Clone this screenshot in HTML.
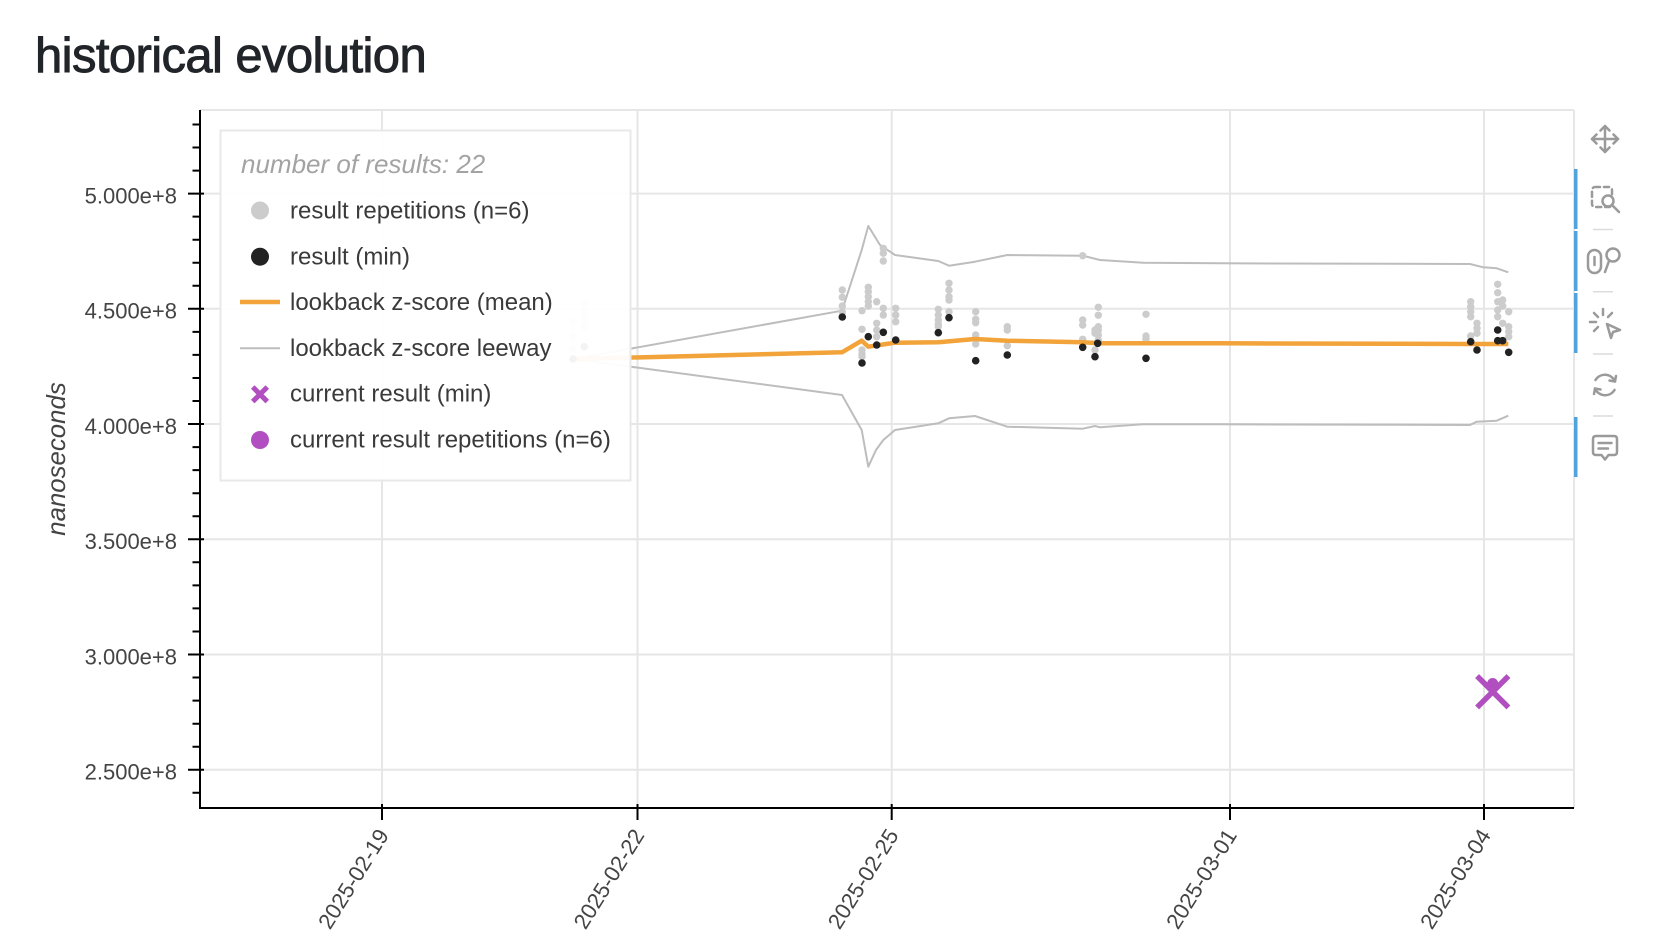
<!DOCTYPE html>
<html><head><meta charset="utf-8"><style>
html,body{margin:0;padding:0;background:#fff;}
svg{display:block;}
text{font-family:"Liberation Sans",Arial,sans-serif;}
</style></head><body>
<svg width="1668" height="952" viewBox="0 0 1668 952" xmlns="http://www.w3.org/2000/svg">
<rect width="1668" height="952" fill="#fff"/>
<text x="35" y="72" font-size="49" letter-spacing="-0.6" fill="#212529" stroke="#212529" stroke-width="0.9">historical evolution</text>

<!-- grid -->
<g stroke="#e6e6e6" stroke-width="2" fill="none">
<path d="M200 193.6H1574M200 308.8H1574M200 424H1574M200 539.3H1574M200 654.5H1574M200 769.8H1574"/>
<path d="M382 110V808M637.5 110V808M891.7 110V808M1230 110V808M1484 110V808"/>
<path d="M200 110H1574M1574 110V808"/>
</g>

<!-- leeway lines -->
<g stroke="#bdbdbd" stroke-width="2" fill="none" stroke-linejoin="round">
<polyline points="573,359 842,310.7 861.7,250 868.3,226 880,245 895,255 938.3,261 949,265.7 975,261.7 1007.3,255 1082.7,255.7 1100,260 1143.3,262.7 1220,263.3 1470,264 1483.3,267.3 1496.7,268.3 1508.3,272.3"/>
<polyline points="573,359 842,395 861.7,430 868.3,466.7 876,450 883.3,440 895,430 938.3,423.3 949,418.3 975,416 1007.3,426.7 1082.7,428.7 1095,426 1100,427.3 1143.3,424.3 1220,424.3 1470,425 1476.7,421.7 1496.7,420.7 1508.3,415.7"/>
</g>

<!-- repetitions -->
<g fill="#cccccc">
<circle cx="573" cy="321.7" r="3.7"/><circle cx="573" cy="336.7" r="3.7"/><circle cx="573" cy="349.3" r="3.7"/>
<circle cx="584.3" cy="303.3" r="3.7"/><circle cx="584.3" cy="310" r="3.7"/><circle cx="584.3" cy="318.3" r="3.7"/><circle cx="584.3" cy="326.7" r="3.7"/>
<circle cx="842.3" cy="290" r="3.7"/><circle cx="842.3" cy="297.3" r="3.7"/><circle cx="842.3" cy="306" r="3.7"/><circle cx="842.3" cy="312" r="3.7"/>
<circle cx="862" cy="310.7" r="3.7"/><circle cx="862" cy="329.3" r="3.7"/><circle cx="862" cy="350" r="3.7"/><circle cx="862" cy="354" r="3.7"/><circle cx="862" cy="356.7" r="3.7"/>
<circle cx="868.3" cy="287.3" r="3.7"/><circle cx="868.3" cy="291.7" r="3.7"/><circle cx="868.3" cy="296.7" r="3.7"/><circle cx="868.3" cy="301.7" r="3.7"/><circle cx="868.3" cy="306" r="3.7"/>
<circle cx="876.7" cy="301.7" r="3.7"/><circle cx="876.7" cy="323.3" r="3.7"/><circle cx="876.7" cy="330" r="3.7"/><circle cx="876.7" cy="336.7" r="3.7"/>
<circle cx="883.3" cy="248.3" r="3.7"/><circle cx="883.3" cy="253.3" r="3.7"/><circle cx="883.3" cy="261" r="3.7"/><circle cx="883.3" cy="308.3" r="3.7"/><circle cx="883.3" cy="315" r="3.7"/>
<circle cx="895.7" cy="308.3" r="3.7"/><circle cx="895.7" cy="315" r="3.7"/><circle cx="895.7" cy="321.7" r="3.7"/>
<circle cx="938.3" cy="309.3" r="3.7"/><circle cx="938.3" cy="315" r="3.7"/><circle cx="938.3" cy="320" r="3.7"/><circle cx="938.3" cy="324" r="3.7"/><circle cx="938.3" cy="326.7" r="3.7"/>
<circle cx="949" cy="283.3" r="3.7"/><circle cx="949" cy="290" r="3.7"/><circle cx="949" cy="296.7" r="3.7"/><circle cx="949" cy="300" r="3.7"/><circle cx="949" cy="311.7" r="3.7"/>
<circle cx="975.7" cy="311.7" r="3.7"/><circle cx="975.7" cy="319.3" r="3.7"/><circle cx="975.7" cy="322.7" r="3.7"/><circle cx="975.7" cy="335" r="3.7"/><circle cx="975.7" cy="339.3" r="3.7"/><circle cx="975.7" cy="344" r="3.7"/>
<circle cx="1007.3" cy="326.7" r="3.7"/><circle cx="1007.3" cy="330" r="3.7"/><circle cx="1007.3" cy="345.7" r="3.7"/>
<circle cx="1082.7" cy="255.7" r="3.7"/><circle cx="1082.7" cy="320" r="3.7"/><circle cx="1082.7" cy="325" r="3.7"/><circle cx="1082.7" cy="339.3" r="3.7"/>
<circle cx="1095" cy="330" r="3.7"/><circle cx="1095" cy="333.3" r="3.7"/><circle cx="1095" cy="350" r="3.7"/>
<circle cx="1098.3" cy="307.3" r="3.7"/><circle cx="1098.3" cy="315.3" r="3.7"/><circle cx="1098.3" cy="326.7" r="3.7"/><circle cx="1098.3" cy="330" r="3.7"/><circle cx="1098.3" cy="335" r="3.7"/><circle cx="1098.3" cy="340" r="3.7"/>
<circle cx="1146" cy="314.3" r="3.7"/><circle cx="1146" cy="336" r="3.7"/><circle cx="1146" cy="339.3" r="3.7"/>
<circle cx="1470.7" cy="301.7" r="3.7"/><circle cx="1470.7" cy="306.7" r="3.7"/><circle cx="1470.7" cy="311.7" r="3.7"/><circle cx="1470.7" cy="316.7" r="3.7"/><circle cx="1470.7" cy="336" r="3.7"/>
<circle cx="1477" cy="323.3" r="3.7"/><circle cx="1477" cy="328.3" r="3.7"/><circle cx="1477" cy="333.3" r="3.7"/>
<circle cx="1497.7" cy="284.3" r="3.7"/><circle cx="1497.7" cy="292.7" r="3.7"/><circle cx="1497.7" cy="301.7" r="3.7"/><circle cx="1497.7" cy="310" r="3.7"/><circle cx="1497.7" cy="316.7" r="3.7"/>
<circle cx="1502.7" cy="300" r="3.7"/><circle cx="1502.7" cy="306" r="3.7"/><circle cx="1502.7" cy="323.3" r="3.7"/>
<circle cx="1508.7" cy="311.7" r="3.7"/><circle cx="1508.7" cy="326.7" r="3.7"/><circle cx="1508.7" cy="331.7" r="3.7"/><circle cx="1508.7" cy="336.7" r="3.7"/>
</g>

<!-- mean -->
<polyline fill="none" stroke="#f2a33a" stroke-width="4.5" stroke-linejoin="round" points="573,359 842,352.3 861.7,340.7 868.3,346.7 895,342.7 938.3,342.3 975,339 1007.3,340.7 1082.7,342.3 1100,343.3 1220,343.3 1470,344 1508.3,344"/>

<!-- min -->
<g fill="#222">
<circle cx="573" cy="359" r="3.8"/><circle cx="584.3" cy="346.7" r="3.8"/>
<circle cx="842.3" cy="317" r="3.8"/><circle cx="862" cy="363" r="3.8"/><circle cx="868.3" cy="336.7" r="3.8"/><circle cx="876.7" cy="345" r="3.8"/><circle cx="883.3" cy="332.3" r="3.8"/><circle cx="895.7" cy="340" r="3.8"/><circle cx="938.3" cy="332.7" r="3.8"/><circle cx="949" cy="317.7" r="3.8"/><circle cx="975.7" cy="360.7" r="3.8"/><circle cx="1007.3" cy="355" r="3.8"/><circle cx="1082.7" cy="347.3" r="3.8"/><circle cx="1095" cy="356.7" r="3.8"/><circle cx="1097.7" cy="343.3" r="3.8"/><circle cx="1146" cy="358.3" r="3.8"/>
<circle cx="1470.7" cy="341.7" r="3.8"/><circle cx="1477" cy="350" r="3.8"/><circle cx="1497.7" cy="330" r="3.8"/><circle cx="1497.7" cy="340.7" r="3.8"/><circle cx="1502.7" cy="340.7" r="3.8"/><circle cx="1508.7" cy="352.3" r="3.8"/>
</g>

<!-- current -->
<g fill="#b14fc0"><circle cx="1492.7" cy="683.5" r="5.5"/><circle cx="1492.7" cy="685" r="5"/></g>
<path d="M1479 678L1506.5 705.5M1506.5 678L1479 705.5" stroke="#b14fc0" stroke-width="5.5" stroke-linecap="square"/>

<!-- legend -->
<rect x="220.5" y="130.5" width="410" height="350" fill="#fff" fill-opacity="0.95" stroke="#e8e8e8" stroke-width="2"/>
<text x="241" y="173" font-size="26" font-style="italic" fill="#a3a3a3">number of results: 22</text>
<circle cx="260" cy="210.5" r="9" fill="#cccccc"/>
<circle cx="260" cy="256.7" r="9" fill="#222"/>
<path d="M240 302H280" stroke="#f2a33a" stroke-width="4.5"/>
<path d="M240 348.3H280" stroke="#bdbdbd" stroke-width="2"/>
<path d="M254.5 388.8L265.5 399.8M265.5 388.8L254.5 399.8" stroke="#b14fc0" stroke-width="5" stroke-linecap="square"/>
<circle cx="260" cy="440" r="9" fill="#b14fc0"/>
<g font-size="24" fill="#3a3a3a">
<text x="290" y="218.3">result repetitions (n=6)</text>
<text x="290" y="264.5">result (min)</text>
<text x="290" y="310">lookback z-score (mean)</text>
<text x="290" y="356">lookback z-score leeway</text>
<text x="290" y="401.5">current result (min)</text>
<text x="290" y="447.5">current result repetitions (n=6)</text>
</g>

<!-- axes -->
<g stroke="#000" stroke-width="2" fill="none">
<path d="M200 110V809M199 808H1574"/>
<path d="M188 193.6H204M188 308.8H204M188 424H204M188 539.3H204M188 654.5H204M188 769.8H204"/>
<path d="M192.5 124.5H200M192.5 147.5H200M192.5 170.6H200M192.5 216.6H200M192.5 239.7H200M192.5 262.7H200M192.5 285.8H200M192.5 331.9H200M192.5 354.9H200M192.5 378H200M192.5 401H200M192.5 447.1H200M192.5 470.1H200M192.5 493.2H200M192.5 516.2H200M192.5 562.3H200M192.5 585.4H200M192.5 608.4H200M192.5 631.5H200M192.5 677.5H200M192.5 700.6H200M192.5 723.7H200M192.5 746.7H200M192.5 792.8H200"/>
<path d="M382 804V820M637.5 804V820M891.7 804V820M1230 804V820M1484 804V820"/>
</g>
<g font-size="22" fill="#444" text-anchor="end">
<text x="177" y="203.5">5.000e+8</text>
<text x="177" y="318.7">4.500e+8</text>
<text x="177" y="433.9">4.000e+8</text>
<text x="177" y="549.2">3.500e+8</text>
<text x="177" y="664.4">3.000e+8</text>
<text x="177" y="779.7">2.500e+8</text>
</g>
<g font-size="22" fill="#444" text-anchor="end">
<text transform="translate(383 831) rotate(-58)" y="7.8">2025-02-19</text>
<text transform="translate(638.5 831) rotate(-58)" y="7.8">2025-02-22</text>
<text transform="translate(892.7 831) rotate(-58)" y="7.8">2025-02-25</text>
<text transform="translate(1231 831) rotate(-58)" y="7.8">2025-03-01</text>
<text transform="translate(1485 831) rotate(-58)" y="7.8">2025-03-04</text>
</g>
<text transform="translate(65 459) rotate(-90)" text-anchor="middle" font-size="25.8" font-style="italic" fill="#444">nanoseconds</text>

<!-- toolbar -->
<g fill="#52a3db">
<rect x="1574" y="169" width="3.5" height="60"/>
<rect x="1574" y="231" width="3.5" height="60"/>
<rect x="1574" y="293" width="3.5" height="60"/>
<rect x="1574" y="417" width="3.5" height="60"/>
</g>
<g stroke="#dcdcdc" stroke-width="1.5"><path d="M1593 229.5H1613M1593 291.7H1613M1593 354H1613M1593 416H1613"/></g>
<g stroke="#9a9a9a" stroke-width="2.5" fill="none" stroke-linecap="round" stroke-linejoin="round">
<path d="M1605 126V152M1592 139H1618"/>
<path d="M1600.5 130.5L1605 126L1609.5 130.5M1600.5 147.5L1605 152L1609.5 147.5M1596.5 134.5L1592 139L1596.5 143.5M1613.5 134.5L1618 139L1613.5 143.5"/>
<rect x="1592" y="187" width="20" height="20" rx="3" stroke-dasharray="5 4"/>
<circle cx="1608" cy="201" r="5.5" fill="#fff"/>
<path d="M1612 205L1619 212"/>
<rect x="1588" y="250" width="13" height="23" rx="6.5"/>
<path d="M1594.5 257V265"/>
<circle cx="1613" cy="255" r="6.5"/>
<path d="M1609 261L1605 272"/>
<path d="M1603 309V315M1590 322H1596M1594 313L1598 317M1594 331L1598 327M1612 313L1608 317"/>
<path d="M1607 324L1620 330L1613 332L1611 338Z"/>
<path d="M1595.5 380A11 11 0 0 1 1615 381.5M1614.5 390A11 11 0 0 1 1595 388.5"/>
<path d="M1609.5 380.5L1615 381.5L1616 376M1600.5 389.5L1595 388.5L1594 394"/>
<path d="M1596 436H1614Q1617 436 1617 439V452Q1617 455 1614 455H1608.5L1605 459.5L1601.5 455H1596Q1593 455 1593 452V439Q1593 436 1596 436Z"/>
<path d="M1598.5 443H1611.5M1598.5 448.5H1608"/>
</g>
</svg>
</body></html>
